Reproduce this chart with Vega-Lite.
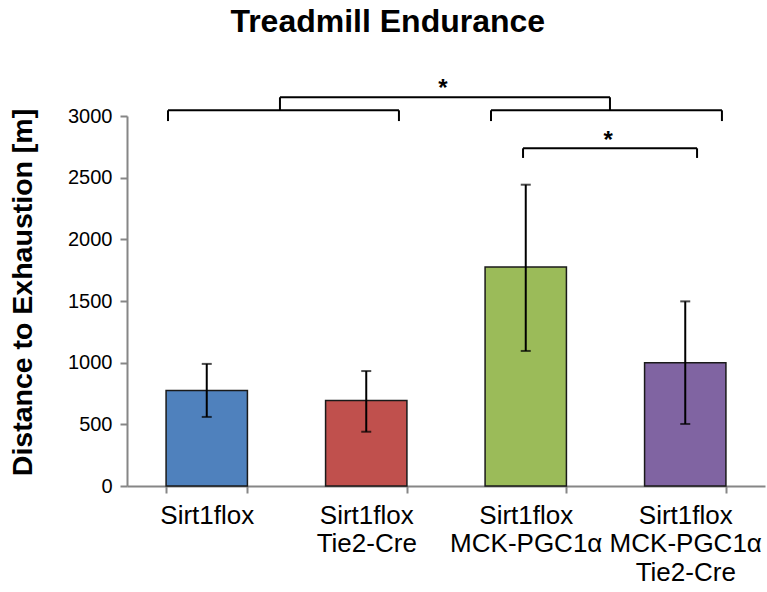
{
  "$schema": "https://vega.github.io/schema/vega-lite/v6.json",
  "autosize": {"type": "none"},
  "width": 638,
  "height": 370,
  "padding": {"left": 127, "top": 116, "right": 2, "bottom": 106},
  "background": "white",
  "config": {
    "font": "Liberation Sans",
    "view": {"stroke": null},
    "axis": {"grid": false, "domainColor": "#868686", "tickColor": "#868686", "labelColor": "black", "titleColor": "black", "labelFont": "Liberation Sans", "titleFont": "Liberation Sans"}
  },
  "title": {"text": "Treadmill Endurance", "fontSize": 32, "fontWeight": "bold", "font": "Liberation Sans", "anchor": "middle", "frame": "bounds", "offset": 38, "dx": 1, "color": "black"},
  "datasets": {
    "bars": [
      {"group": "Sirt1flox", "mean": 775, "lo": 560, "hi": 990},
      {"group": "Sirt1flox Tie2-Cre", "mean": 693, "lo": 440, "hi": 932},
      {"group": "Sirt1flox MCK-PGC1α", "mean": 1775, "lo": 1095, "hi": 2443},
      {"group": "Sirt1flox MCK-PGC1α Tie2-Cre", "mean": 1000, "lo": 503, "hi": 1497}
    ],
    "brackets": [
      {"x": 0.257, "x2": 1.705, "y": 3046, "y2": 3046},
      {"x": 0.257, "x2": 0.257, "y": 2959, "y2": 3046},
      {"x": 1.705, "x2": 1.705, "y": 2959, "y2": 3046},
      {"x": 2.282, "x2": 3.730, "y": 3046, "y2": 3046},
      {"x": 2.282, "x2": 2.282, "y": 2959, "y2": 3046},
      {"x": 3.730, "x2": 3.730, "y": 2959, "y2": 3046},
      {"x": 0.959, "x2": 3.028, "y": 3152, "y2": 3152},
      {"x": 0.959, "x2": 0.959, "y": 3046, "y2": 3152},
      {"x": 3.028, "x2": 3.028, "y": 3046, "y2": 3152},
      {"x": 2.483, "x2": 3.574, "y": 2738, "y2": 2738},
      {"x": 2.483, "x2": 2.483, "y": 2660, "y2": 2738},
      {"x": 3.574, "x2": 3.574, "y": 2660, "y2": 2738}
    ],
    "stars": [
      {"x": 1.981, "y": 3165, "label": "*"},
      {"x": 3.016, "y": 2744, "label": "*"}
    ]
  },
  "layer": [
    {
      "data": {"name": "bars"},
      "layer": [
        {
          "mark": {"type": "bar", "stroke": "#1a1a1a", "strokeWidth": 1.5},
          "encoding": {
            "x": {"field": "group", "type": "nominal", "sort": null,
              "scale": {"paddingInner": 0.49, "paddingOuter": 0.245},
              "axis": {"title": null, "labelAngle": 0, "labelFontSize": 26, "labelExpr": "split(datum.label, ' ')", "labelLineHeight": 28.5, "labelPadding": 9, "tickBand": "extent", "tickSize": 7, "domainWidth": 2, "tickWidth": 2, "labelBaseline": "top"}},
            "y": {"field": "mean", "type": "quantitative",
              "scale": {"domain": [0, 3000], "nice": false},
              "axis": {"title": "Distance to Exhaustion [m]", "titleFontSize": 28.5, "titleFontWeight": "bold", "titlePadding": 30, "titleY": 176, "labelFontSize": 20, "labelPadding": 8, "format": "d", "tickSize": 7, "values": [0, 500, 1000, 1500, 2000, 2500, 3000], "domainWidth": 2, "tickWidth": 2}},
            "color": {"field": "group", "type": "nominal", "sort": null, "legend": null,
              "scale": {"range": ["#4F81BD", "#C0504D", "#9BBB59", "#8064A2"]}}
          }
        },
        {
          "mark": {"type": "rule", "color": "black", "strokeWidth": 2},
          "encoding": {
            "x": {"field": "group", "type": "nominal", "sort": null},
            "y": {"field": "lo", "type": "quantitative"},
            "y2": {"field": "hi"}
          }
        },
        {
          "mark": {"type": "tick", "color": "black", "thickness": 2, "size": 10},
          "encoding": {
            "x": {"field": "group", "type": "nominal", "sort": null},
            "y": {"field": "lo", "type": "quantitative"}
          }
        },
        {
          "mark": {"type": "tick", "color": "black", "thickness": 2, "size": 10},
          "encoding": {
            "x": {"field": "group", "type": "nominal", "sort": null},
            "y": {"field": "hi", "type": "quantitative"}
          }
        }
      ]
    },
    {
      "data": {"name": "brackets"},
      "mark": {"type": "rule", "color": "black", "strokeWidth": 2, "clip": false},
      "encoding": {
        "x": {"field": "x", "type": "quantitative", "scale": {"domain": [0, 4], "nice": false, "zero": false}, "axis": null},
        "x2": {"field": "x2"},
        "y": {"field": "y", "type": "quantitative"},
        "y2": {"field": "y2"}
      }
    },
    {
      "data": {"name": "stars"},
      "mark": {"type": "text", "fontSize": 24, "fontWeight": "bold", "baseline": "alphabetic", "align": "center", "color": "black"},
      "encoding": {
        "x": {"field": "x", "type": "quantitative", "scale": {"domain": [0, 4], "nice": false, "zero": false}, "axis": null},
        "y": {"field": "y", "type": "quantitative"},
        "text": {"field": "label"}
      }
    }
  ],
  "resolve": {"scale": {"x": "independent"}}
}
